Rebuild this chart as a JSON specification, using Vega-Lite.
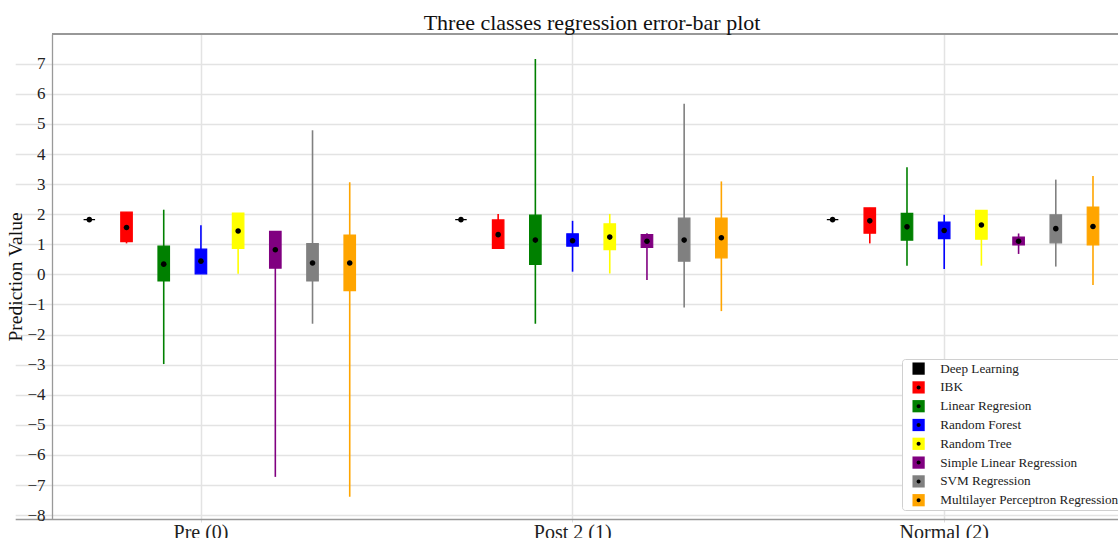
{
  "$schema": "https://vega.github.io/schema/vega-lite/v6.json",
  "width": 1066,
  "height": 485,
  "autosize": {"type": "none"},
  "padding": {"left": 52, "top": 34, "right": 0, "bottom": 19},
  "background": "white",
  "config": {
    "view": {"stroke": null},
    "font": "Liberation Serif",
    "axisY": {"labelFont": "Liberation Serif", "labelFontSize": 17, "labelColor": "#222222", "labelOverlap": false, "labelFlush": false, "tickCount": 16, "ticks": false, "labelPadding": 7, "grid": true, "gridColor": "#e3e3e3", "gridWidth": 1.5, "domainColor": "#999999", "domainWidth": 1.3, "titleFont": "Liberation Serif", "titleFontSize": 19.5, "titleFontWeight": "normal", "titleColor": "#111111", "titlePadding": 1}
  },
  "title": {"text": "Three classes regression error-bar plot", "font": "Liberation Serif", "fontSize": 22, "fontWeight": "normal", "color": "#111111", "anchor": "middle", "offset": -2, "dx": 7},
  "data": {"values": [
    {"cls": "Pre (0)", "model": "Deep Learning", "wlo": 1.82, "q1": 1.82, "mean": 1.82, "q3": 1.82, "whi": 1.82},
    {"cls": "Pre (0)", "model": "IBK", "wlo": 1.03, "q1": 1.09, "mean": 1.56, "q3": 2.07, "whi": 2.07},
    {"cls": "Pre (0)", "model": "Linear Regresion", "wlo": -2.98, "q1": -0.22, "mean": 0.34, "q3": 0.94, "whi": 2.15},
    {"cls": "Pre (0)", "model": "Random Forest", "wlo": 0.02, "q1": 0.02, "mean": 0.44, "q3": 0.84, "whi": 1.63},
    {"cls": "Pre (0)", "model": "Random Tree", "wlo": 0.02, "q1": 0.86, "mean": 1.44, "q3": 2.04, "whi": 2.04},
    {"cls": "Pre (0)", "model": "Simple Linear Regression", "wlo": -6.73, "q1": 0.21, "mean": 0.82, "q3": 1.43, "whi": 1.43},
    {"cls": "Pre (0)", "model": "SVM Regression", "wlo": -1.64, "q1": -0.22, "mean": 0.38, "q3": 1.02, "whi": 4.79},
    {"cls": "Pre (0)", "model": "Multilayer Perceptron Regression", "wlo": -7.39, "q1": -0.54, "mean": 0.38, "q3": 1.31, "whi": 3.06},
    {"cls": "Post 2 (1)", "model": "Deep Learning", "wlo": 1.82, "q1": 1.82, "mean": 1.82, "q3": 1.82, "whi": 1.82},
    {"cls": "Post 2 (1)", "model": "IBK", "wlo": 0.86, "q1": 0.86, "mean": 1.32, "q3": 1.81, "whi": 2.01},
    {"cls": "Post 2 (1)", "model": "Linear Regresion", "wlo": -1.64, "q1": 0.33, "mean": 1.14, "q3": 1.97, "whi": 7.16},
    {"cls": "Post 2 (1)", "model": "Random Forest", "wlo": 0.09, "q1": 0.94, "mean": 1.12, "q3": 1.35, "whi": 1.78},
    {"cls": "Post 2 (1)", "model": "Random Tree", "wlo": 0.03, "q1": 0.82, "mean": 1.24, "q3": 1.68, "whi": 2.01},
    {"cls": "Post 2 (1)", "model": "Simple Linear Regression", "wlo": -0.19, "q1": 0.90, "mean": 1.10, "q3": 1.32, "whi": 1.37},
    {"cls": "Post 2 (1)", "model": "SVM Regression", "wlo": -1.10, "q1": 0.44, "mean": 1.14, "q3": 1.87, "whi": 5.67},
    {"cls": "Post 2 (1)", "model": "Multilayer Perceptron Regression", "wlo": -1.22, "q1": 0.55, "mean": 1.22, "q3": 1.87, "whi": 3.09},
    {"cls": "Normal (2)", "model": "Deep Learning", "wlo": 1.82, "q1": 1.82, "mean": 1.82, "q3": 1.82, "whi": 1.82},
    {"cls": "Normal (2)", "model": "IBK", "wlo": 1.03, "q1": 1.37, "mean": 1.78, "q3": 2.21, "whi": 2.21},
    {"cls": "Normal (2)", "model": "Linear Regresion", "wlo": 0.29, "q1": 1.14, "mean": 1.58, "q3": 2.03, "whi": 3.56},
    {"cls": "Normal (2)", "model": "Random Forest", "wlo": 0.18, "q1": 1.19, "mean": 1.46, "q3": 1.74, "whi": 1.98},
    {"cls": "Normal (2)", "model": "Random Tree", "wlo": 0.29, "q1": 1.17, "mean": 1.64, "q3": 2.13, "whi": 2.13},
    {"cls": "Normal (2)", "model": "Simple Linear Regression", "wlo": 0.68, "q1": 0.98, "mean": 1.10, "q3": 1.24, "whi": 1.36},
    {"cls": "Normal (2)", "model": "SVM Regression", "wlo": 0.26, "q1": 1.05, "mean": 1.52, "q3": 1.98, "whi": 3.15},
    {"cls": "Normal (2)", "model": "Multilayer Perceptron Regression", "wlo": -0.35, "q1": 0.98, "mean": 1.59, "q3": 2.24, "whi": 3.27}
  ]},
  "layer": [
    {
      "mark": {"type": "bar", "width": 11.5, "strokeWidth": 1.2},
      "encoding": {
        "x": {"field": "cls", "type": "nominal",
          "scale": {"domain": ["Pre (0)", "Post 2 (1)", "Normal (2)"], "range": [-36.8, 1078.1], "paddingInner": 0, "paddingOuter": 0},
          "axis": {"title": null, "labelAngle": 0, "labelFont": "Liberation Serif", "labelFontSize": 20, "labelColor": "#222222", "ticks": true, "tickColor": "#dddddd", "tickSize": 3, "labelPadding": 0, "domainColor": "#999999", "domainWidth": 1.3, "grid": true, "gridColor": "#e3e3e3", "gridWidth": 1.5, "bandPosition": 0.5}},
        "xOffset": {"field": "model", "type": "nominal",
          "scale": {"domain": ["Deep Learning", "IBK", "Linear Regresion", "Random Forest", "Random Tree", "Simple Linear Regression", "SVM Regression", "Multilayer Perceptron Regression"], "paddingInner": 0, "paddingOuter": 0.995, "align": 0.75}},
        "y": {"field": "q1", "type": "quantitative",
          "scale": {"domain": [-8.13, 7.99], "nice": false, "zero": false},
          "axis": {"title": "Prediction Value", "format": "d"}},
        "y2": {"field": "q3"},
        "color": {"field": "model", "type": "nominal",
          "scale": {"domain": ["Deep Learning", "IBK", "Linear Regresion", "Random Forest", "Random Tree", "Simple Linear Regression", "SVM Regression", "Multilayer Perceptron Regression"], "range": ["#000000", "#ff0000", "#008000", "#0000ff", "#ffff00", "#800080", "#808080", "#ffa500"]},
          "legend": {"orient": "none", "legendX": 850, "legendY": 325, "title": null, "symbolType": "square", "symbolSize": 150, "symbolStrokeWidth": 0, "labelFont": "Liberation Serif", "labelFontSize": 13.2, "labelColor": "#222222", "fillColor": "white", "strokeColor": "#d0d0d0", "cornerRadius": 3, "padding": 3, "rowPadding": 4.8, "symbolOffset": 7, "labelOffset": 15, "labelLimit": 400, "zindex": 1}},
        "stroke": {"field": "model", "type": "nominal", "legend": null,
          "scale": {"domain": ["Deep Learning", "IBK", "Linear Regresion", "Random Forest", "Random Tree", "Simple Linear Regression", "SVM Regression", "Multilayer Perceptron Regression"], "range": ["#000000", "#ff0000", "#008000", "#0000ff", "#ffff00", "#800080", "#808080", "#ffa500"]}}
      }
    },
    {
      "mark": {"type": "rule", "strokeWidth": 1.6},
      "encoding": {
        "x": {"field": "cls", "type": "nominal"},
        "xOffset": {"field": "model", "type": "nominal"},
        "y": {"field": "wlo", "type": "quantitative", "axis": {"title": "Prediction Value", "format": "d"}},
        "y2": {"field": "whi"},
        "color": {"field": "model", "type": "nominal"}
      }
    },
    {
      "mark": {"type": "point", "filled": true, "color": "black", "size": 289, "opacity": 1},
      "encoding": {
        "x": {"field": "cls", "type": "nominal"},
        "xOffset": {"field": "model", "type": "nominal"},
        "y": {"field": "mean", "type": "quantitative", "axis": {"title": "Prediction Value", "format": "d"}},
        "shape": {"field": "model", "type": "nominal",
          "scale": {"range": ["M -0.33 0 A 0.33 0.33 0 1 0 0.33 0 A 0.33 0.33 0 1 0 -0.33 0 Z"]},
          "legend": {"orient": "none", "legendX": 850, "legendY": 325, "title": null, "symbolSize": 150, "symbolStrokeWidth": 0, "symbolFillColor": "black", "labelFont": "Liberation Serif", "labelFontSize": 13.2, "labelExpr": "''", "padding": 3, "rowPadding": 4.8, "symbolOffset": 7, "labelOffset": 15, "zindex": 2}}
      }
    },
    {
      "mark": {"type": "rule", "color": "#999999", "strokeWidth": 1.5},
      "encoding": {"y": {"datum": 7.99, "type": "quantitative", "axis": {"title": "Prediction Value", "format": "d"}}}
    }
  ]
}
